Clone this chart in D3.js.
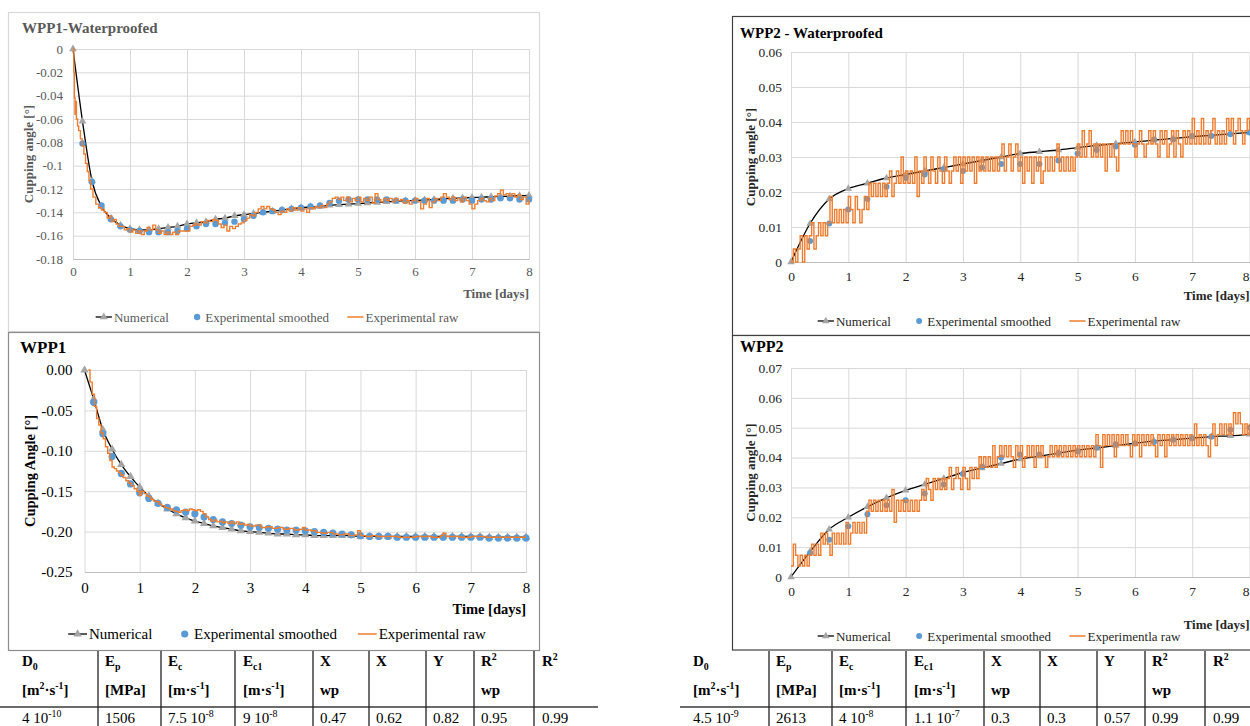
<!DOCTYPE html>
<html>
<head>
<meta charset="utf-8">
<script src="https://cdn.jsdelivr.net/npm/d3@7"></script>
<style>
  body { margin: 0; background: #fff; }
  svg { display: block; }
  text { font-family: "Liberation Serif", "Times New Roman", serif; }
</style>
</head>
<body>
<svg id="fig" width="1250" height="726"></svg>
<script>
// ---- data ----
const days = [0, 1, 2, 3, 4, 5, 6, 7, 8]
const tSixth = d3.range(49).map(i => i / 6)    // sampling of numerical / smoothed (WPP1)
const tThird = d3.range(25).map(i => i / 3)    // sampling of numerical / smoothed (WPP2)
const tRaw = d3.range(201).map(i => i * 0.04)  // sampling of raw (WPP2)

const wpp1wYTicks = [0, -0.02, -0.04, -0.06, -0.08, -0.1, -0.12, -0.14, -0.16, -0.18]
const wpp1YTicks = [0, -0.05, -0.1, -0.15, -0.2, -0.25]
const wpp2wYTicks = [0, 0.01, 0.02, 0.03, 0.04, 0.05, 0.06]
const wpp2YTicks = [0, 0.01, 0.02, 0.03, 0.04, 0.05, 0.06, 0.07]

const wpp1wNumerical = [0, -0.062, -0.113, -0.135, -0.145, -0.151, -0.154, -0.155, -0.155, -0.154,
  -0.153, -0.152, -0.150, -0.149, -0.148, -0.146, -0.145, -0.143, -0.142, -0.141, -0.140, -0.139,
  -0.138, -0.137, -0.136, -0.1355, -0.135, -0.134, -0.1335, -0.133, -0.1325, -0.132, -0.1315, -0.131,
  -0.1305, -0.130, -0.1298, -0.1294, -0.129, -0.1285, -0.128, -0.1277, -0.1273, -0.127, -0.1267,
  -0.1264, -0.1261, -0.1258, -0.1255]
const wpp1wSmoothed = [null, -0.081, -0.114, -0.134, -0.146, -0.152, -0.155, -0.156, -0.157, -0.157,
  -0.157, -0.156, -0.154, -0.152, -0.150, -0.150, -0.149, -0.148, -0.146, -0.143, -0.140, -0.139,
  -0.138, -0.137, -0.136, -0.135, -0.134, -0.132, -0.130, -0.129, -0.129, -0.129, -0.129, -0.129,
  -0.130, -0.130, -0.130, -0.130, -0.130, -0.130, -0.130, -0.129, -0.130, -0.129, -0.129, -0.128,
  -0.128, -0.129, -0.129]
const wpp1wRaw = [[0, 0], [0.015, -0.02], [0.025, -0.042], [0.035, -0.056], [0.045, -0.045], [0.06, -0.06],
  [0.08, -0.066], [0.1, -0.07], [0.13, -0.077], [0.16, -0.083], [0.19, -0.09], [0.22, -0.098],
  [0.25, -0.105], [0.28, -0.113], [0.31, -0.12], [0.35, -0.127], [0.4, -0.133], [0.45, -0.136],
  [0.5, -0.138], [0.55, -0.14], [0.6, -0.145], [0.64, -0.143], [0.68, -0.148], [0.72, -0.146],
  [0.76, -0.15], [0.8, -0.152], [0.85, -0.152], [0.9, -0.155], [0.95, -0.154], [1.0, -0.157],
  [1.05, -0.155], [1.1, -0.158], [1.15, -0.156], [1.2, -0.159], [1.25, -0.156], [1.3, -0.153],
  [1.35, -0.155], [1.4, -0.151], [1.45, -0.155], [1.5, -0.158], [1.55, -0.156], [1.6, -0.159],
  [1.65, -0.157], [1.7, -0.159], [1.75, -0.157], [1.8, -0.159], [1.85, -0.156], [1.9, -0.156],
  [2.0, -0.156], [2.05, -0.152], [2.1, -0.151], [2.15, -0.150], [2.2, -0.151], [2.25, -0.148],
  [2.3, -0.149], [2.35, -0.147], [2.4, -0.148], [2.45, -0.146], [2.5, -0.147], [2.55, -0.150],
  [2.6, -0.153], [2.65, -0.151], [2.7, -0.156], [2.75, -0.152], [2.8, -0.154], [2.85, -0.152],
  [2.9, -0.150], [2.95, -0.149], [3.0, -0.147], [3.05, -0.145], [3.1, -0.142], [3.15, -0.143],
  [3.2, -0.140], [3.25, -0.137], [3.3, -0.135], [3.35, -0.137], [3.4, -0.135], [3.45, -0.137],
  [3.5, -0.138], [3.55, -0.140], [3.6, -0.142], [3.65, -0.139], [3.7, -0.140], [3.75, -0.137],
  [3.8, -0.139], [3.85, -0.136], [3.9, -0.138], [3.95, -0.136], [4.0, -0.139], [4.05, -0.137],
  [4.1, -0.140], [4.15, -0.136], [4.2, -0.137], [4.25, -0.135], [4.3, -0.136], [4.35, -0.134],
  [4.4, -0.136], [4.45, -0.133], [4.5, -0.131], [4.55, -0.128], [4.6, -0.127], [4.65, -0.129],
  [4.7, -0.127], [4.75, -0.130], [4.8, -0.127], [4.85, -0.131], [4.9, -0.128], [4.95, -0.130],
  [5.0, -0.127], [5.05, -0.131], [5.1, -0.128], [5.15, -0.130], [5.2, -0.127], [5.25, -0.132],
  [5.3, -0.124], [5.35, -0.129], [5.4, -0.131], [5.45, -0.128], [5.5, -0.130], [5.55, -0.128],
  [5.6, -0.131], [5.65, -0.128], [5.7, -0.130], [5.75, -0.129], [5.8, -0.132], [5.85, -0.130],
  [5.9, -0.133], [5.95, -0.130], [6.0, -0.128], [6.05, -0.131], [6.1, -0.137], [6.15, -0.133],
  [6.2, -0.128], [6.25, -0.136], [6.3, -0.131], [6.35, -0.128], [6.4, -0.130], [6.45, -0.127],
  [6.5, -0.124], [6.55, -0.127], [6.6, -0.129], [6.65, -0.127], [6.7, -0.130], [6.75, -0.128],
  [6.8, -0.131], [6.85, -0.127], [6.9, -0.130], [6.95, -0.133], [7.0, -0.137], [7.05, -0.133],
  [7.1, -0.130], [7.15, -0.128], [7.2, -0.130], [7.25, -0.131], [7.3, -0.128], [7.35, -0.130],
  [7.4, -0.126], [7.45, -0.124], [7.5, -0.121], [7.55, -0.125], [7.6, -0.124], [7.65, -0.126],
  [7.7, -0.124], [7.75, -0.127], [7.8, -0.125], [7.85, -0.129], [7.9, -0.127], [7.95, -0.133],
  [8.0, -0.129]]

const wpp1Numerical = [0, -0.036, -0.074, -0.098, -0.117, -0.132, -0.145, -0.156, -0.165, -0.172,
  -0.178, -0.183, -0.187, -0.190, -0.193, -0.195, -0.197, -0.199, -0.200, -0.201, -0.202, -0.203,
  -0.203, -0.204, -0.204, -0.205, -0.205, -0.205, -0.205, -0.205, -0.206, -0.206, -0.206, -0.206,
  -0.206, -0.206, -0.206, -0.206, -0.206, -0.206, -0.206, -0.206, -0.206, -0.206, -0.207, -0.207,
  -0.207, -0.207, -0.207]
const wpp1Smoothed = [null, -0.040, -0.079, -0.107, -0.128, -0.141, -0.152, -0.159, -0.165, -0.170,
  -0.173, -0.176, -0.178, -0.182, -0.185, -0.188, -0.190, -0.192, -0.194, -0.195, -0.196, -0.197,
  -0.198, -0.198, -0.199, -0.200, -0.201, -0.202, -0.203, -0.204, -0.205, -0.206, -0.206, -0.206,
  -0.207, -0.207, -0.207, -0.207, -0.207, -0.207, -0.207, -0.207, -0.207, -0.207, -0.208, -0.208,
  -0.208, -0.208, -0.208]
const wpp1Raw = [[0.07, 0.0], [0.1, -0.015], [0.14, -0.03], [0.18, -0.045], [0.22, -0.06], [0.26, -0.068],
  [0.3, -0.078], [0.34, -0.085], [0.38, -0.095], [0.42, -0.103], [0.46, -0.112], [0.5, -0.12],
  [0.54, -0.122], [0.58, -0.125], [0.62, -0.127], [0.66, -0.13], [0.7, -0.133], [0.75, -0.137],
  [0.8, -0.14], [0.85, -0.143], [0.9, -0.147], [0.95, -0.15], [1.0, -0.155], [1.03, -0.15],
  [1.08, -0.153], [1.12, -0.156], [1.16, -0.157], [1.2, -0.16], [1.25, -0.162], [1.3, -0.163],
  [1.35, -0.166], [1.4, -0.168], [1.45, -0.17], [1.5, -0.171], [1.55, -0.172], [1.6, -0.174],
  [1.65, -0.175], [1.7, -0.176], [1.75, -0.174], [1.8, -0.173], [1.85, -0.174], [1.9, -0.172],
  [1.95, -0.173], [2.0, -0.174], [2.05, -0.173], [2.1, -0.175], [2.15, -0.178], [2.2, -0.182],
  [2.25, -0.185], [2.3, -0.187], [2.35, -0.186], [2.4, -0.188], [2.45, -0.187], [2.5, -0.189],
  [2.55, -0.188], [2.6, -0.19], [2.65, -0.188], [2.7, -0.19], [2.75, -0.188], [2.8, -0.191],
  [2.85, -0.19], [2.9, -0.192], [2.95, -0.191], [3.0, -0.193], [3.1, -0.192], [3.2, -0.195],
  [3.3, -0.194], [3.4, -0.196], [3.5, -0.195], [3.6, -0.197], [3.7, -0.196], [3.8, -0.198],
  [3.9, -0.197], [3.95, -0.195], [4.0, -0.198], [4.1, -0.199], [4.2, -0.201], [4.3, -0.202],
  [4.4, -0.201], [4.5, -0.203], [4.6, -0.204], [4.7, -0.203], [4.8, -0.205], [4.9, -0.204],
  [4.95, -0.199], [5.0, -0.205], [5.1, -0.206], [5.2, -0.205], [5.3, -0.206], [5.5, -0.206],
  [5.7, -0.207], [6.0, -0.206], [6.3, -0.207], [6.45, -0.205], [6.5, -0.202], [6.55, -0.206],
  [6.8, -0.207], [7.0, -0.206], [7.3, -0.207], [7.6, -0.207], [8.0, -0.207]]

const wpp2wNumerical = [0, 0.011, 0.018, 0.021, 0.0225, 0.024, 0.025, 0.026, 0.027, 0.028, 0.029,
  0.030, 0.031, 0.0315, 0.032, 0.0327, 0.0333, 0.0338, 0.0343, 0.0348, 0.0353, 0.0358, 0.0362,
  0.0366, 0.037]
const wpp2wSmoothed = [null, 0.006, 0.011, 0.015, 0.018, 0.0215, 0.024, 0.025, 0.0265, 0.026, 0.027,
  0.028, 0.028, 0.028, 0.029, 0.031, 0.032, 0.033, 0.0335, 0.035, 0.035, 0.036, 0.036, 0.0365, 0.037]
const wpp2wRaw = [0, .0037, 0, .0037, .0075, 0, .0075, .0037, .0075, .0112,
  .0037, .0075, .0112, .0075, .0112, .0075, .0112, .0187, .0112, .015,
  .0112, .015, .0112, .015, .0112, .0187, .015, .0112, .0187, .015,
  .0112, .015, .0187, .015, .0225, .0187, .0225, .0187, .0225, .0187,
  .0225, .0187, .0225, .026, .0187, .0225, .026, .0225, .030, .0225,
  .026, .0225, .026, .0225, .030, .0187, .026, .0225, .030, .026,
  .0225, .030, .026, .0225, .030, .026, .0225, .030, .026, .0225,
  .026, .030, .026, .030, .0225, .030, .026, .030, .026, .030,
  .0225, .030, .026, .030, .026, .030, .026, .030, .026, .030,
  .026, .030, .0337, .026, .030, .0337, .026, .030, .0337, .026,
  .030, .0225, .030, .026, .030, .0225, .030, .026, .030, .0225,
  .026, .030, .026, .030, .026, .030, .0337, .026, .030, .026,
  .030, .026, .030, .026, .030, .0337, .030, .0375, .030, .0337,
  .0375, .030, .0337, .030, .0337, .030, .0337, .026, .0337, .030,
  .0337, .030, .026, .0337, .0375, .0337, .0375, .0337, .0375, .0337,
  .030, .0337, .0375, .0337, .030, .0337, .0375, .0337, .0375, .0337,
  .030, .0375, .0337, .0375, .030, .0337, .0375, .030, .0375, .0337,
  .030, .0375, .0337, .0375, .0337, .041, .0337, .0375, .0337, .041,
  .0337, .0375, .0337, .0375, .041, .0337, .0375, .0337, .0375, .0337,
  .041, .0375, .041, .0337, .0375, .041, .0375, .0337, .0375, .041,
  .0375]

const wpp2Numerical = [0, 0.0085, 0.016, 0.020, 0.0235, 0.0265, 0.029, 0.031, 0.033, 0.035, 0.0365,
  0.038, 0.0395, 0.0405, 0.0415, 0.0425, 0.0432, 0.044, 0.0448, 0.0455, 0.046, 0.0465, 0.047,
  0.0473, 0.0478]
const wpp2Smoothed = [null, 0.008, 0.0125, 0.017, 0.021, 0.024, 0.0257, 0.028, 0.031, 0.0345, 0.037,
  0.040, 0.041, 0.041, 0.0415, 0.042, 0.0433, 0.0445, 0.0447, 0.0452, 0.046, 0.0465, 0.047,
  0.0493, 0.050]
const wpp2Raw = [.0037, .011, .0073, .0037, .0073, .0037, .0073, .0037, .0073, .011,
  .0073, .011, .0073, .0147, .011, .0147, .011, .0073, .0147, .011,
  .0147, .011, .0147, .011, .0183, .011, .0147, .0183, .0147, .0183,
  .0147, .0183, .0147, .022, .0257, .022, .0257, .022, .0257, .022,
  .0257, .022, .0257, .022, .0293, .0183, .0257, .022, .0257, .022,
  .0257, .022, .0257, .022, .0257, .022, .0257, .0293, .0257, .033,
  .0293, .0257, .033, .0293, .033, .0293, .033, .0293, .033, .0367,
  .0293, .033, .0367, .033, .0293, .0367, .033, .0293, .0367, .033,
  .0367, .033, .0403, .0367, .0403, .0367, .0403, .0367, .044, .0367,
  .0403, .044, .0403, .044, .0403, .044, .0403, .0367, .044, .0403,
  .044, .0367, .0403, .044, .0403, .044, .0367, .044, .0403, .044,
  .0403, .0367, .0403, .044, .0403, .044, .0403, .044, .0403, .044,
  .0403, .044, .0403, .044, .0403, .044, .0403, .044, .0403, .044,
  .0403, .044, .0403, .0477, .044, .0367, .0477, .044, .0477, .044,
  .0477, .0403, .0477, .044, .0477, .044, .0477, .044, .0403, .0477,
  .044, .0477, .0403, .0477, .044, .0477, .044, .0477, .044, .0403,
  .0477, .044, .0477, .0403, .0477, .044, .0477, .044, .0477, .044,
  .0477, .044, .0477, .044, .0477, .044, .0513, .044, .0477, .044,
  .0477, .044, .0403, .0477, .0513, .044, .0477, .0513, .0477, .0513,
  .0477, .0513, .0477, .055, .0513, .055, .0513, .0477, .0513, .0477,
  .0513]

const legendLabels = ['Numerical', 'Experimental smoothed']

const tableHeader = ['D_{0}', 'E_{p}', 'E_{c}', 'E_{c1}', 'X', 'X', 'Y', 'R^{2}', 'R^{2}']
const tableUnits = ['[m^{2}·s^{-1}]', '[MPa]', '[m·s^{-1}]', '[m·s^{-1}]', 'wp', '', '', 'wp', '']
const wpp1Params = ['4 10^{-10}', '1506', '7.5 10^{-8}', '9 10^{-8}', '0.47', '0.62', '0.82', '0.95', '0.99']
const wpp2Params = ['4.5 10^{-9}', '2613', '4 10^{-8}', '1.1 10^{-7}', '0.3', '0.3', '0.57', '0.99', '0.99']

// ---- drawing ----
const ORANGE = '#ed7d31', BLUE = '#5b9bd5', TRI = '#a5a5a5', GRID = '#d9d9d9'
const svg = d3.select('#fig')
const W = +svg.attr('width')

const fmtGeneral = v => String(+v.toFixed(2))
const fmtFixed = v => v.toFixed(2)

const panels = [
    {
        title: 'WPP1-Waterproofed', box: [8.5, 12.5, 531, 319], boxColor: '#d9d9d9',
        x0: 73, x1: 529, yTop: 49, yBot: 259, yDomain: [-0.18, 0], yTicks: wpp1wYTicks, fmt: fmtGeneral,
        t: tSixth, num: wpp1wNumerical, smooth: wpp1wSmoothed, raw: wpp1wRaw,
        rawLabel: 'Experimental raw', yLabel: 'Cupping angle [°]',
        color: '#595959', titleColor: '#595959', tick: 13, titleSize: 15, labelSize: 13, legendSize: 13,
        titleY: 33, titleX: 22, yLabelX: 28, xPad: 8, yPad: 10, timeY: 298, legendY: 317, legendCx: 277,
        dotR: 3.2, triSize: 26
    },
    {
        title: 'WPP1', box: [8.5, 332.5, 531, 318], boxColor: '#8c8c8c',
        x0: 84.5, x1: 526, yTop: 370, yBot: 572, yDomain: [-0.25, 0], yTicks: wpp1YTicks, fmt: fmtFixed,
        t: tSixth, num: wpp1Numerical, smooth: wpp1Smoothed, raw: wpp1Raw,
        rawLabel: 'Experimental raw', yLabel: 'Cupping Angle [°]',
        color: '#000', titleColor: '#000', tick: 15, titleSize: 17, labelSize: 14.5, legendSize: 15,
        titleY: 353, titleX: 20, yLabelX: 30, xPad: 10, yPad: 12, timeY: 614, legendY: 634, legendCx: 277,
        dotR: 3.6, triSize: 30
    },
    {
        title: 'WPP2 - Waterproofed', box: [732.5, 16.5, 600, 319], boxColor: '#404040',
        x0: 791, x1: 1249.5, yTop: 52, yBot: 262, yDomain: [0, 0.06], yTicks: wpp2wYTicks, fmt: fmtGeneral,
        t: tThird, num: wpp2wNumerical, smooth: wpp2wSmoothed, raw: tRaw.map((t, i) => [t, wpp2wRaw[i]]),
        rawLabel: 'Experimental raw', yLabel: 'Cupping angle [°]',
        color: '#262626', titleColor: '#000', tick: 13.5, titleSize: 15, labelSize: 13, legendSize: 13,
        titleY: 38, titleX: 740, yLabelX: 750, xPad: 9.5, yPad: 9, timeY: 300, legendY: 321, legendCx: 999,
        dotR: 3, triSize: 24
    },
    {
        title: 'WPP2', box: [732.5, 335.5, 600, 314.5], boxColor: '#404040',
        x0: 791, x1: 1249.5, yTop: 368, yBot: 577, yDomain: [0, 0.07], yTicks: wpp2YTicks, fmt: fmtGeneral,
        t: tThird, num: wpp2Numerical, smooth: wpp2Smoothed, raw: tRaw.map((t, i) => [t, wpp2Raw[i]]),
        rawLabel: 'Experimentla raw', yLabel: 'Cupping angle [°]',
        color: '#262626', titleColor: '#000', tick: 13.5, titleSize: 16, labelSize: 13, legendSize: 13,
        titleY: 352, titleX: 740, yLabelX: 750, xPad: 9.5, yPad: 9, timeY: 629, legendY: 636, legendCx: 999,
        dotR: 3, triSize: 24
    }
]

function drawPanel(p) {
    const g = svg.append('g')
    g.append('rect')
        .attr('x', p.box[0]).attr('y', p.box[1]).attr('width', p.box[2]).attr('height', p.box[3])
        .attr('fill', '#fff').attr('stroke', p.boxColor).attr('stroke-width', 1.2)

    const x = d3.scaleLinear().domain([0, 8]).range([p.x0, p.x1])
    const y = d3.scaleLinear().domain(p.yDomain).range([p.yBot, p.yTop])

    // Y axis + horizontal grid
    const gy = g.append('g').attr('transform', `translate(${p.x0},0)`)
        .call(d3.axisLeft(y).tickValues(p.yTicks).tickFormat(p.fmt)
            .tickSize(-(p.x1 - p.x0)).tickPadding(p.yPad))
    gy.select('.domain').remove()
    gy.selectAll('.tick line').attr('stroke', GRID)
    gy.selectAll('.tick text').attr('font-family', null).attr('font-size', p.tick).attr('fill', p.color)

    // X axis + vertical grid
    const gx = g.append('g').attr('transform', `translate(0,${p.yBot})`)
        .call(d3.axisBottom(x).tickValues(days).tickFormat(d3.format('d'))
            .tickSize(-(p.yBot - p.yTop)).tickSizeOuter(0).tickPadding(p.xPad))
    gx.select('.domain').attr('stroke', '#bfbfbf')
    gx.selectAll('.tick line').attr('stroke', GRID)
    gx.selectAll('.tick text').attr('font-family', null).attr('font-size', p.tick).attr('fill', p.color)
    // keep the last label inside the page when the axis runs to the edge
    gx.selectAll('.tick text').filter(d => x(d) > W - 6).attr('text-anchor', 'end').attr('x', W - 1 - x(8))

    // titles
    g.append('text').attr('x', p.titleX).attr('y', p.titleY)
        .attr('font-size', p.titleSize).attr('font-weight', 'bold').attr('fill', p.titleColor).text(p.title)
    g.append('text').attr('transform', `translate(${p.yLabelX},${(p.yTop + p.yBot) / 2}) rotate(-90)`)
        .attr('text-anchor', 'middle').attr('dy', '0.35em')
        .attr('font-size', p.labelSize).attr('font-weight', 'bold').attr('fill', p.color).text(p.yLabel)
    g.append('text').attr('x', p.x1).attr('y', p.timeY).attr('text-anchor', 'end')
        .attr('font-size', p.labelSize).attr('font-weight', 'bold').attr('fill', p.color).text('Time [days]')

    // Numerical
    const numPts = p.t.map((t, i) => [t, p.num[i]])
    g.append('path').datum(numPts)
        .attr('d', d3.line().x(d => x(d[0])).y(d => y(d[1])).curve(d3.curveMonotoneX))
        .attr('fill', 'none').attr('stroke', '#000').attr('stroke-width', 1.3)
    g.selectAll(null).data(numPts).enter().append('path')
        .attr('transform', d => `translate(${x(d[0])},${y(d[1])})`)
        .attr('d', d3.symbol(d3.symbolTriangle, p.triSize)).attr('fill', TRI)

    // Experimental smoothed
    const smPts = p.t.map((t, i) => [t, p.smooth[i]]).filter(d => d[1] != null)
    g.selectAll(null).data(smPts).enter().append('circle')
        .attr('cx', d => x(d[0])).attr('cy', d => y(d[1])).attr('r', p.dotR).attr('fill', BLUE)

    // Experimental raw (stepped logger signal)
    g.append('path').datum(p.raw)
        .attr('d', d3.line().x(d => x(d[0])).y(d => y(d[1])).curve(d3.curveStepAfter))
        .attr('fill', 'none').attr('stroke', ORANGE).attr('stroke-width', 1.4)

    drawLegend(g, p)
}

function drawLegend(g, p) {
    const fs = p.legendSize, sw = fs * 1.25, gap = fs * 1.4
    const items = [
        { label: legendLabels[0], kind: 'num' },
        { label: legendLabels[1], kind: 'dot' },
        { label: p.rawLabel, kind: 'raw' }
    ]
    const lg = g.append('g')
    let cx = 0
    items.forEach(it => {
        const ig = lg.append('g').attr('transform', `translate(${cx},0)`)
        if (it.kind === 'num') {
            ig.append('line').attr('x1', 0).attr('x2', sw).attr('stroke', '#000').attr('stroke-width', 1.3)
            ig.append('path').attr('transform', `translate(${sw / 2},0)`)
                .attr('d', d3.symbol(d3.symbolTriangle, p.triSize)).attr('fill', TRI)
        } else if (it.kind === 'dot') {
            ig.append('circle').attr('cx', sw / 2 + 2).attr('r', p.dotR).attr('fill', BLUE)
        } else {
            ig.append('line').attr('x1', 0).attr('x2', sw).attr('stroke', ORANGE).attr('stroke-width', 1.5)
        }
        const t = ig.append('text').attr('x', sw + 2).attr('dy', '0.35em')
            .attr('font-size', fs).attr('fill', p.color).text(it.label)
        cx += sw + 2 + t.node().getComputedTextLength() + gap
    })
    const total = cx - gap
    lg.attr('transform', `translate(${p.legendCx - total / 2},${p.legendY})`)
}

panels.forEach(drawPanel)

// ---- parameter tables ----
function richText(sel, str, size) {
    const re = /([_^])\{([^}]*)\}|([^_^]+)/g
    let m, shift = 0
    while ((m = re.exec(str))) {
        if (m[3]) {
            sel.append('tspan').attr('dy', -shift).attr('font-size', size).text(m[3])
            shift = 0
        } else {
            const d = m[1] === '^' ? -size * 0.38 : size * 0.24
            sel.append('tspan').attr('dy', d - shift).attr('font-size', size * 0.66).text(m[2])
            shift = d
        }
    }
}

const colX = [22, 105, 168, 243, 320, 376, 433, 481, 542]
const colSep = [98, 161, 235, 313, 369, 426, 474, 534]

function drawTable(offset, values, lineFrom, lineTo) {
    const g = svg.append('g').attr('transform', `translate(${offset},0)`)
    g.append('line').attr('x1', lineFrom - offset).attr('x2', lineTo - offset)
        .attr('y1', 707).attr('y2', 707).attr('stroke', '#3a3a3a').attr('stroke-width', 1.6)
    g.selectAll(null).data(colSep).enter().append('line')
        .attr('x1', d => d).attr('x2', d => d).attr('y1', 651).attr('y2', 726)
        .attr('stroke', '#222').attr('stroke-width', 1.3)
    const rows = [
        { cells: tableHeader, y: 666, weight: 'bold' },
        { cells: tableUnits, y: 695, weight: 'bold' },
        { cells: values, y: 723, weight: 'normal' }
    ]
    rows.forEach(r => {
        r.cells.forEach((c, i) => {
            if (!c) return
            const t = g.append('text').attr('x', colX[i]).attr('y', r.y)
                .attr('font-weight', r.weight).attr('fill', '#000')
            richText(t, c, 15)
        })
    })
}

drawTable(0, wpp1Params, 0, 598)
drawTable(671, wpp2Params, 680, 1250)
</script>
</body>
</html>
